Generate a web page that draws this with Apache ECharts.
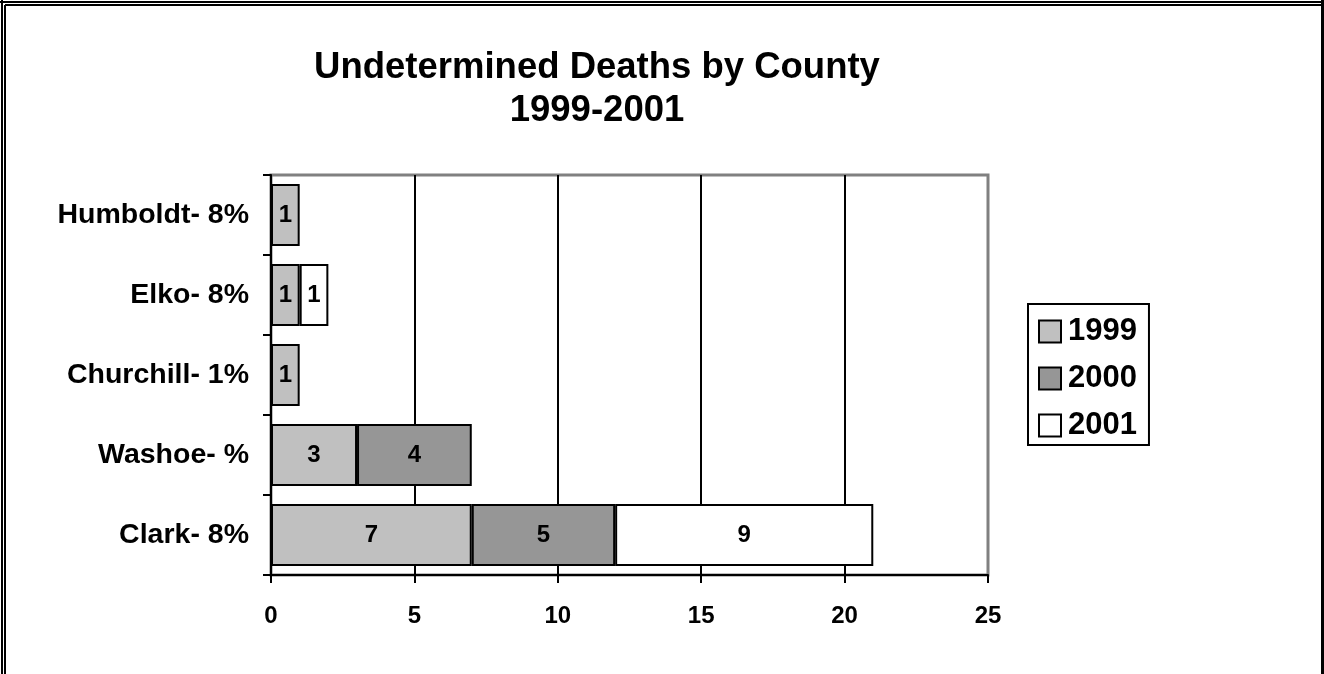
<!DOCTYPE html>
<html>
<head>
<meta charset="utf-8">
<script src="https://cdn.jsdelivr.net/npm/echarts@6/dist/echarts.min.js"></script>
<style>
  html, body { margin: 0; padding: 0; background: #fff; }
  #chart { width: 1324px; height: 674px; }
</style>
</head>
<body>
<div id="chart"></div>
<script>
// Counties, listed top to bottom
const counties = ['Humboldt- 8%', 'Elko- 8%', 'Churchill- 1%', 'Washoe- %', 'Clark- 8%'];
const years = ['1999', '2000', '2001'];
// Deaths per county for each year (null = none recorded)
const deaths1999 = [1, 1, 1, 3, 7];
const deaths2000 = [null, null, null, 4, 5];
const deaths2001 = [null, 1, null, null, 9];
const xTicks = [0, 5, 10, 15, 20, 25];

const FONT = '"Liberation Sans", Arial, sans-serif';
const fills = ['#c0c0c0', '#969696', '#ffffff'];
const seriesValues = [deaths1999, deaths2000, deaths2001];

const chart = echarts.init(document.getElementById('chart'), null, { renderer: 'canvas' });

const series = years.map((y, i) => ({
  name: y,
  type: 'bar',
  stack: 'total',
  data: seriesValues[i],
  barWidth: 62,
  itemStyle: { color: fills[i], borderColor: '#000', borderWidth: 2 },
  label: {
    show: true,
    position: 'inside',
    color: '#000',
    fontFamily: FONT,
    fontWeight: 'bold',
    fontSize: 24
  },
  emphasis: { disabled: true }
}));

chart.setOption({
  backgroundColor: '#fff',
  animation: false,
  title: {
    text: 'Undetermined Deaths by County\n1999-2001',
    left: 597,
    top: 46,
    textAlign: 'center',
    padding: 0,
    textStyle: {
      fontFamily: FONT,
      fontWeight: 'bold',
      fontSize: 36.5,
      lineHeight: 43,
      color: '#000'
    }
  },
  legend: {
    orient: 'vertical',
    left: 1028,
    top: 304,
    padding: [12, 12, 4, 10],
    itemGap: 16,
    itemWidth: 22,
    itemHeight: 22,
    borderColor: '#000',
    borderWidth: 2,
    icon: 'rect',
    itemStyle: { borderColor: '#000', borderWidth: 2 },
    textStyle: {
      fontFamily: FONT,
      fontWeight: 'bold',
      fontSize: 31,
      color: '#000',
      padding: [0, 0, 0, 2]
    },
    data: years
  },
  grid: {
    left: 271,
    right: 336,
    top: 175,
    bottom: 99,
    show: true,
    borderColor: '#808080',
    borderWidth: 3,
    backgroundColor: 'transparent'
  },
  xAxis: {
    type: 'value',
    min: xTicks[0],
    max: xTicks[xTicks.length - 1],
    interval: 5,
    axisLine: { show: true, lineStyle: { color: '#000', width: 2 } },
    axisTick: { show: true, length: 8, lineStyle: { color: '#000', width: 2 } },
    splitLine: {
      show: true,
      lineStyle: { color: ['#000', '#000', '#000', '#000', '#000', '#808080'], width: 2 }
    },
    axisLabel: {
      margin: 29,
      fontFamily: FONT,
      fontWeight: 'bold',
      fontSize: 24,
      color: '#000'
    }
  },
  yAxis: {
    type: 'category',
    inverse: true,
    data: counties,
    axisLine: { show: true, lineStyle: { color: '#000', width: 2 } },
    axisTick: { show: true, length: 8, lineStyle: { color: '#000', width: 2 } },
    axisLabel: {
      margin: 22,
      fontFamily: FONT,
      fontWeight: 'bold',
      fontSize: 28.5,
      color: '#000'
    }
  },
  series: series,
  graphic: [
    // double frame on the top and left, heavy rule on the right
    { type: 'line', shape: { x1: 2, y1: 0, x2: 2, y2: 674 }, style: { stroke: '#000', lineWidth: 2 } },
    { type: 'line', shape: { x1: 5, y1: 5, x2: 5, y2: 674 }, style: { stroke: '#000', lineWidth: 2 } },
    { type: 'line', shape: { x1: 0, y1: 2, x2: 1324, y2: 2 }, style: { stroke: '#000', lineWidth: 2 } },
    { type: 'line', shape: { x1: 5, y1: 5, x2: 1321, y2: 5 }, style: { stroke: '#000', lineWidth: 2 } },
    { type: 'rect', shape: { x: 1321, y: 0, width: 3, height: 674 }, style: { fill: '#000' } }
  ]
});
</script>
</body>
</html>
